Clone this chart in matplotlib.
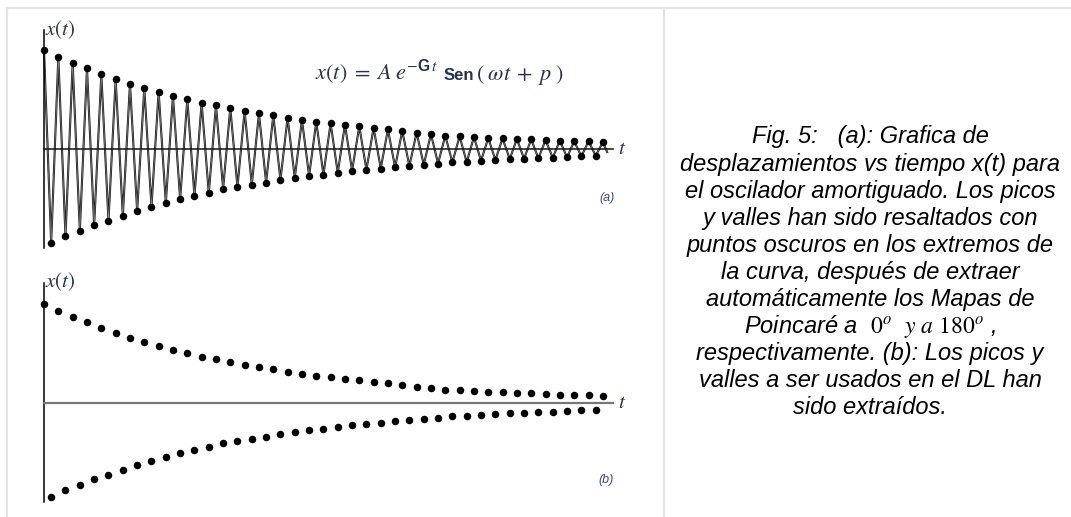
import numpy as np
import matplotlib
matplotlib.use("Agg")
import matplotlib.pyplot as plt
from matplotlib.lines import Line2D

plt.rcParams['mathtext.fontset'] = 'custom'
plt.rcParams['mathtext.rm'] = 'STIXGeneral'
plt.rcParams['mathtext.it'] = 'STIXGeneral:italic'
plt.rcParams['mathtext.bf'] = 'STIXGeneral:bold'
plt.rcParams['mathtext.sf'] = 'Liberation Sans:bold'
plt.rcParams['mathtext.fallback'] = 'stix'

# ---- data (amplitudes in the same arbitrary units) ----
peak_amp = [98.7, 92.0, 86.0, 80.7, 75.0, 70.0, 65.3, 61.3, 57.3, 53.3,
            49.7, 46.3, 43.7, 41.0, 38.0, 35.7, 33.7, 31.3, 29.0, 27.3,
            25.7, 24.3, 22.7, 21.1, 19.6, 18.0, 16.4, 14.9, 13.3, 12.7,
            12.0, 11.0, 10.7, 10.0, 9.7, 9.0, 8.3, 7.7, 7.7, 6.7]
trough_amp = [94.0, 87.3, 81.7, 76.3, 71.7, 66.7, 62.0, 58.0, 54.0, 50.3,
              47.0, 44.3, 39.7, 38.0, 35.7, 33.7, 30.7, 28.7, 26.7, 25.7,
              23.7, 21.7, 20.7, 19.5, 18.2, 17.0, 15.8, 14.5, 13.3, 13.3,
              11.7, 11.0, 10.0, 9.7, 9.3, 8.7, 8.3, 7.3, 6.7]
end_value = -3.0  # curve tail after the last peak

caption_lines = [
    "Fig. 5:   (a): Grafica de",
    "desplazamientos vs tiempo x(t) para",
    "el oscilador amortiguado. Los picos",
    "y valles han sido resaltados con",
    "puntos oscuros en los extremos de",
    "la curva, después de extraer",
    "automáticamente los Mapas de",
    r"Poincaré a  $\mathrm{0}^{o}$  $y\ a\ \mathrm{180}^{o}$ ,",
    "respectivamente. (b): Los picos y",
    "valles a ser usados en el DL han",
    "sido extraídos.",
]

peaks = np.array(peak_amp)
troughs = -np.array(trough_amp)
t_peaks = np.arange(len(peaks), dtype=float)
t_troughs = np.arange(len(troughs), dtype=float) + 0.5

# zigzag curve alternating peaks and troughs
curve_t, curve_x = [], []
for i in range(len(peaks)):
    curve_t.append(t_peaks[i]); curve_x.append(peaks[i])
    if i < len(troughs):
        curve_t.append(t_troughs[i]); curve_x.append(troughs[i])
curve_t.append(t_peaks[-1] + 0.3); curve_x.append(end_value)

W, H = 1071, 517
fig = plt.figure(figsize=(W / 100, H / 100), dpi=100)
fig.patch.set_facecolor('white')

def px_axes(x0, x1, y0, y1):
    return fig.add_axes([x0 / W, 1 - y1 / H, (x1 - x0) / W, (y1 - y0) / H])

TXT = '#263050'
PX_PER_T = 14.33
X0, X1 = 44, 613

def setup(ax, yaxis_px, ytop_px, ybot_px, xcolor, xlw):
    ax.set_xlim(0, (X1 - X0) / PX_PER_T)
    ax.set_ylim(-(ybot_px - yaxis_px), yaxis_px - ytop_px)
    ax.set_facecolor('none')
    for s in ('top', 'right'):
        ax.spines[s].set_visible(False)
    ax.spines['bottom'].set_position(('data', 0))
    ax.spines['bottom'].set_color(xcolor)
    ax.spines['bottom'].set_linewidth(xlw)
    ax.spines['left'].set_color('black')
    ax.spines['left'].set_linewidth(1.1)
    ax.set_xticks([]); ax.set_yticks([])

# ---- panel (a) ----
axa = px_axes(X0, X1, 30, 248)
setup(axa, 149, 30, 248, '#111111', 1.1)
axa.plot(curve_t, curve_x, color='#1a1a1a', lw=1.5, clip_on=False, zorder=2)
axa.plot(curve_t, curve_x, color='#8c8c8c', lw=0.45, clip_on=False, zorder=2)
axa.plot(t_peaks, peaks, 'o', color='black', ms=4.4, clip_on=False, zorder=3)
axa.plot(t_troughs, troughs, 'o', color='black', ms=4.4, clip_on=False, zorder=3)

# ---- panel (b) ----
axb = px_axes(X0, X1, 283, 502)
setup(axb, 403, 283, 502, '#777777', 1.6)
axb.plot(t_peaks, peaks, 'o', color='black', ms=4.4, clip_on=False, zorder=3)
axb.plot(t_troughs, troughs, 'o', color='black', ms=4.4, clip_on=False, zorder=3)

# ---- texts ----
def ftext(x, y, s, **kw):
    return fig.text(x / W, 1 - y / H, s, **kw)

ftext(45, 30, r'$x(t)$', fontsize=15, color=TXT, ha='left', va='center')
ftext(45, 282, r'$x(t)$', fontsize=15, color=TXT, ha='left', va='center')
ftext(618, 148, r'$t$', fontsize=15, color=TXT, ha='left', va='center')
ftext(618, 402, r'$t$', fontsize=15, color=TXT, ha='left', va='center')

# formula built from pieces, laid out left to right
renderer = fig.canvas.get_renderer()
pieces = [
    (r'$x(t)\;=\;A\;e^{-\mathsf{G}\,t}$', dict(fontsize=16), 0),
    ('Sen', dict(fontsize=12, weight='bold', family='Liberation Sans'), 6),
    (r'$(\;\omega t\;+\;p\;)$', dict(fontsize=16), 2),
]
xcur = 315
base_y = 80
for s, kw, gap in pieces:
    xcur += gap
    t = ftext(xcur, base_y, s, color=TXT, ha='left', va='baseline', **kw)
    bb = t.get_window_extent(renderer)
    xcur += bb.width

ftext(607, 198, '(a)', fontsize=9, style='italic', color='#3a4a80',
      family='Liberation Sans', ha='center', va='center')
ftext(606, 480, '(b)', fontsize=9, style='italic', color='#3a4a80',
      family='Liberation Sans', ha='center', va='center')

cap_y0, cap_dy = 137, 27.1
for i, line in enumerate(caption_lines):
    ftext(870, cap_y0 + i * cap_dy, line, fontsize=17, style='italic',
          family='Liberation Sans', color='black', ha='center', va='center')

# ---- frame lines ----
FR = '#e4e4e4'
fig.add_artist(Line2D([7 / W, 1], [1 - 8 / H, 1 - 8 / H], color=FR, lw=1.6))
fig.add_artist(Line2D([7 / W, 7 / W], [0, 1 - 8 / H], color=FR, lw=1.6))
fig.add_artist(Line2D([664 / W, 664 / W], [0, 1 - 8 / H], color=FR, lw=1.6))

fig.savefig('out.png', dpi=100, facecolor='white')
